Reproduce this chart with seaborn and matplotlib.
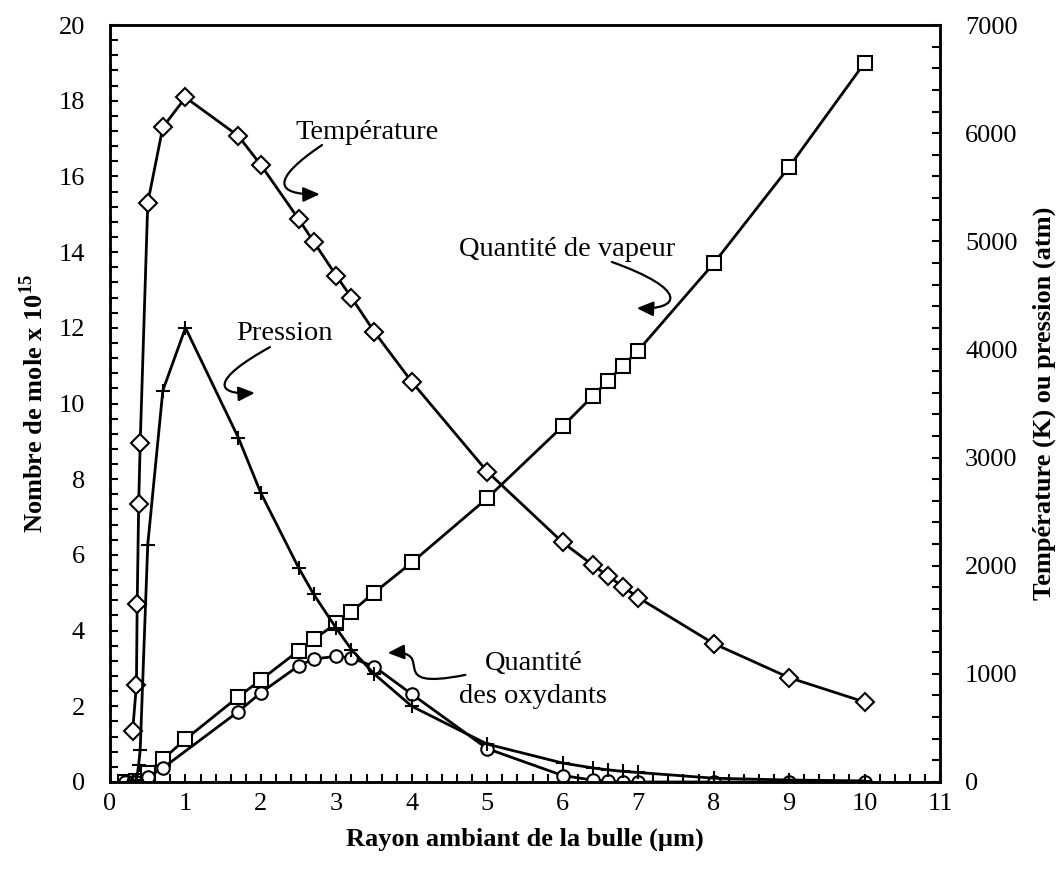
import matplotlib
matplotlib.use("Agg")
import matplotlib.pyplot as plt
from matplotlib.path import Path
from matplotlib.patches import FancyArrowPatch
from matplotlib.ticker import MultipleLocator
import seaborn as sns
import pandas as pd

# ---------------- data ----------------
# Temperature (K) - right axis, diamonds
r_temp = [0.3, 0.35, 0.36, 0.38, 0.4, 0.5, 0.7, 1.0, 1.7, 2.0, 2.5, 2.7, 3.0, 3.2, 3.5,
          4.0, 5.0, 6.0, 6.4, 6.6, 6.8, 7.0, 8.0, 9.0, 10.0]
temperature = [475, 895, 1645, 2575, 3135, 5355, 6055, 6330, 5975, 5705, 5205, 4995, 4680,
               4480, 4165, 3700, 2870, 2215, 2005, 1905, 1805, 1705, 1280, 965, 740]

# Pressure (atm) - right axis, plus
r_pres = [0.25, 0.3, 0.35, 0.38, 0.4, 0.5, 0.7, 1.0, 1.7, 2.0, 2.5, 2.7, 3.0, 3.2, 3.5,
          4.0, 5.0, 6.0, 6.4, 6.6, 6.8, 7.0, 8.0, 9.0, 10.0]
pression = [0, 0, 20, 160, 300, 2195, 3620, 4200, 3185, 2670, 1980, 1735, 1420, 1225, 1000,
            700, 350, 175, 130, 112, 98, 88, 35, 18, 10]

# Vapour (mole x 1e15) - left axis, squares
r_vap = [0.2, 0.3, 0.35, 0.5, 0.7, 1.0, 1.7, 2.0, 2.5, 2.7, 3.0, 3.2, 3.5, 4.0, 5.0,
         6.0, 6.4, 6.6, 6.8, 7.0, 8.0, 9.0, 10.0]
vapeur = [0, 0, 0.02, 0.25, 0.6, 1.13, 2.25, 2.7, 3.47, 3.77, 4.19, 4.5, 5.0, 5.8, 7.5,
          9.4, 10.2, 10.6, 11.0, 11.4, 13.7, 16.25, 19.0]

# Oxidants (mole x 1e15) - left axis, circles
r_oxy = [0.2, 0.3, 0.35, 0.5, 0.7, 1.7, 2.0, 2.5, 2.7, 3.0, 3.2, 3.5, 4.0, 5.0, 6.0,
         6.4, 6.6, 6.8, 7.0, 8.0, 9.0, 10.0]
oxydants = [0, 0, 0.01, 0.13, 0.37, 1.86, 2.36, 3.07, 3.25, 3.32, 3.28, 3.05, 2.32, 0.88,
            0.17, 0.05, 0.02, 0.0, 0.0, 0.0, 0.0, 0.0]

x_ticks = list(range(0, 12))
left_ticks = list(range(0, 21, 2))
right_ticks = list(range(0, 7001, 1000))

# ---------------- style ----------------
sns.set_theme(style="ticks")
FONT = ["Liberation Serif", "DejaVu Serif"]
plt.rcParams["font.family"] = FONT
plt.rcParams["mathtext.fontset"] = "custom"
plt.rcParams["mathtext.rm"] = "Liberation Serif"
plt.rcParams["mathtext.bf"] = "Liberation Serif:bold"
plt.rcParams["text.color"] = "black"
plt.rcParams["axes.labelcolor"] = "black"
FS = 19      # tick labels
FS_LAB = 19  # axis titles
FS_ANN = 20.5  # annotations

fig = plt.figure(figsize=(10.63, 8.75), dpi=100)
ax1 = fig.add_axes([0.1035, 0.1063, 0.7808, 0.8651])
ax2 = ax1.twinx()

lw = 2.0
mew = 1.5
common = dict(color="black", linewidth=lw, sort=False, legend=False,
              markerfacecolor="white", markeredgecolor="black", markeredgewidth=mew)

df_v = pd.DataFrame({"r": r_vap, "v": vapeur})
df_o = pd.DataFrame({"r": r_oxy, "v": oxydants})
df_t = pd.DataFrame({"r": r_temp, "v": temperature})
df_p = pd.DataFrame({"r": r_pres, "v": pression})

sns.lineplot(data=df_v, x="r", y="v", ax=ax1, marker="s", markersize=10, **common)
sns.lineplot(data=df_o, x="r", y="v", ax=ax1, marker="o", markersize=9, **common)
sns.lineplot(data=df_t, x="r", y="v", ax=ax2, marker="D", markersize=9, **common)
sns.lineplot(data=df_p, x="r", y="v", ax=ax2, marker="+", markersize=10, **common)

ax1.set_xlim(0, 11)
ax1.set_ylim(0, 20)
ax2.set_ylim(0, 7000)
ax1.set_xticks(x_ticks)
ax1.set_yticks(left_ticks)
ax2.set_yticks(right_ticks)
ax1.xaxis.set_minor_locator(MultipleLocator(0.2))
ax1.yaxis.set_minor_locator(MultipleLocator(0.4))
ax2.yaxis.set_minor_locator(MultipleLocator(200))

for a in (ax1, ax2):
    for s in a.spines.values():
        s.set_color("black")
        s.set_linewidth(1.8)

ax1.tick_params(axis="x", which="both", direction="in", length=6, width=1.5,
                labelsize=FS, pad=8, top=False, colors="black")
ax1.tick_params(axis="y", which="both", direction="in", length=6, width=1.5,
                labelsize=FS, pad=18, right=False, colors="black")
ax2.tick_params(axis="y", which="both", direction="in", length=6, width=1.5,
                labelsize=FS, pad=18, left=False, colors="black")

ax1.set_xlabel("Rayon ambiant de la bulle (µm)", fontsize=FS_LAB, fontweight="bold", labelpad=9)
ax1.set_ylabel(r"Nombre de mole x 10$^{\mathbf{15}}$", fontsize=FS_LAB, fontweight="bold", labelpad=8)
ax2.set_ylabel("Température (K) ou pression (atm)", fontsize=FS_LAB, fontweight="bold", labelpad=11)

# ---------------- annotations ----------------
ax1.text(3.41, 17.15, "Température", fontsize=FS_ANN, ha="center", va="center")
ax1.text(2.31, 11.86, "Pression", fontsize=FS_ANN, ha="center", va="center")
ax1.text(6.06, 14.06, "Quantité de vapeur", fontsize=FS_ANN, ha="center", va="center")
ax1.text(5.61, 2.69, "Quantité\ndes oxydants", fontsize=FS_ANN, ha="center", va="center",
         linespacing=1.4)

codes = [Path.MOVETO, Path.CURVE4, Path.CURVE4, Path.CURVE4]
arrows = [
    [(2.81, 16.83), (2.12, 15.90), (2.19, 15.51), (2.78, 15.53)],
    [(2.12, 11.49), (1.33, 10.62), (1.39, 10.22), (1.92, 10.28)],
    [(6.65, 13.74), (7.69, 13.00), (7.55, 12.47), (6.98, 12.52)],
    [(4.71, 2.83), (3.58, 2.38), (4.37, 3.49), (3.68, 3.41)],
]
for verts in arrows:
    p = FancyArrowPatch(path=Path(verts, codes),
                        arrowstyle="-|>,head_length=0.9,head_width=0.4",
                        mutation_scale=11, color="black", lw=1.6, zorder=5)
    ax1.add_patch(p)

fig.savefig("out.png", dpi=100)
